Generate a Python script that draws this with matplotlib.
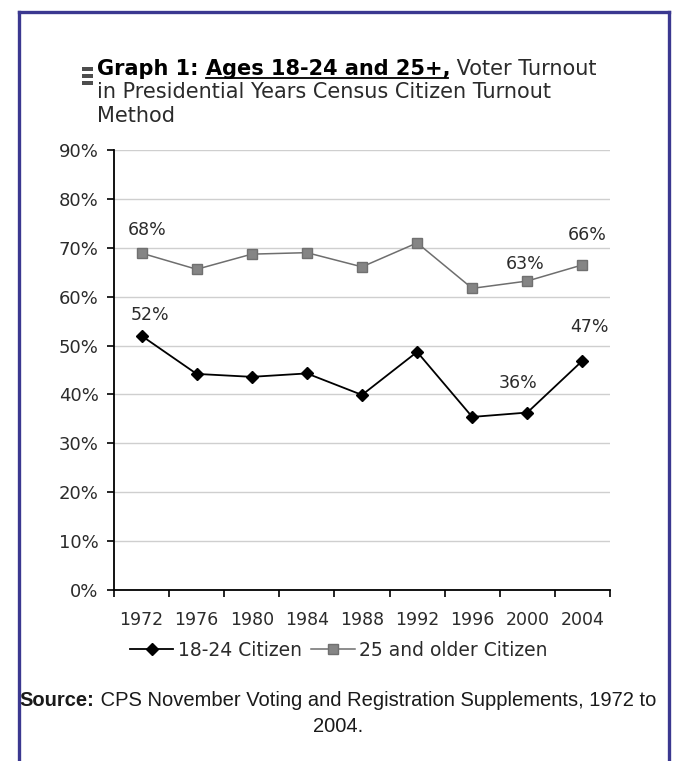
import matplotlib
import matplotlib.pyplot as plt
from matplotlib.lines import Line2D
from matplotlib.patches import Rectangle

matplotlib.use("Agg")

# --- Data ---
years = ["1972", "1976", "1980", "1984", "1988", "1992", "1996", "2000", "2004"]
young = [52.0, 44.2, 43.6, 44.3, 39.9, 48.7, 35.4, 36.3, 46.9]
older = [68.9, 65.6, 68.7, 69.0, 66.1, 71.0, 61.7, 63.2, 66.5]
y_ticks = [0, 10, 20, 30, 40, 50, 60, 70, 80, 90]

# labelled points: (index, text, dx px, dy px)
young_labels = [(0, "52%", 8, 21), (7, "36%", -9, 30), (8, "47%", 7, 34)]
older_labels = [(0, "68%", 6, 23), (7, "63%", -2, 17), (8, "66%", 5, 30)]

W, H = 677, 761
dpi = 100
fig = plt.figure(figsize=(W / dpi, H / dpi), dpi=dpi)
fig.patch.set_facecolor("white")


def fx(px):
    return px / W


def fy(py):
    return 1 - py / H


# frame (open at the bottom)
frame_color = "#3b3890"
fig.add_artist(Line2D([fx(19), fx(19)], [0, fy(12)], color=frame_color, lw=2.4))
fig.add_artist(Line2D([fx(19), fx(669)], [fy(12), fy(12)], color=frame_color, lw=2.4))
fig.add_artist(Line2D([fx(669), fx(669)], [0, fy(12)], color=frame_color, lw=2.4))

# --- Axes ---
ax = fig.add_axes([fx(114), fy(590), fx(610) - fx(114), fy(150) - fy(590)])
x = list(range(len(years)))
ax.set_xlim(-0.5, len(years) - 0.5)
ax.set_ylim(0, 90)

ax.plot(x, older, color="#6e6e6e", lw=1.1, marker="s", ms=6.5,
        mfc="#858585", mec="#707070", zorder=3, label="25 and older Citizen")
ax.plot(x, young, color="black", lw=1.3, marker="D", ms=6,
        mfc="black", mec="black", zorder=3, label="18-24 Citizen")

text_color = "#2b2b2b"
fs = 12.5
for i, txt, dx, dy in young_labels:
    ax.annotate(txt, (x[i], young[i]), xytext=(dx * 0.72, dy * 0.72),
                textcoords="offset points", ha="center", va="center",
                fontsize=fs, color=text_color)
for i, txt, dx, dy in older_labels:
    ax.annotate(txt, (x[i], older[i]), xytext=(dx * 0.72, dy * 0.72),
                textcoords="offset points", ha="center", va="center",
                fontsize=fs, color=text_color)

ax.set_yticks(y_ticks)
ax.set_yticklabels([f"{v}%" for v in y_ticks])
ax.set_xticks([i - 0.5 for i in range(len(years) + 1)])
ax.set_xticklabels([])
ax.set_xticks(x, minor=True)
ax.set_xticklabels(years, minor=True)
ax.tick_params(axis="x", which="major", length=5, width=1.2, direction="out")
ax.tick_params(axis="x", which="minor", length=0, pad=15, labelsize=fs, labelcolor=text_color)
ax.tick_params(axis="y", length=5, width=1.2, labelsize=13, labelcolor=text_color, pad=6)
ax.grid(axis="y", color="#cfcfcf", lw=1)
ax.set_axisbelow(True)
for s in ["top", "right"]:
    ax.spines[s].set_visible(False)
for s in ["left", "bottom"]:
    ax.spines[s].set_linewidth(1.3)

handles, labels = ax.get_legend_handles_labels()
fig.legend(handles[::-1], labels[::-1], loc="center", bbox_to_anchor=(fx(339), fy(650)),
           ncol=2, frameon=False, fontsize=13.5, handlelength=2.3, handletextpad=0.25,
           columnspacing=0.5, labelcolor=text_color)

# --- Title ---
renderer = fig.canvas.get_renderer()
tfs = 15


def put(xpx, ypx, s, **kw):
    t = fig.text(fx(xpx), fy(ypx), s, va="baseline", ha="left", **kw)
    bb = t.get_window_extent(renderer)
    return t, bb


_, bb = put(97, 75, "Graph 1: ", fontsize=tfs, weight="bold", color="black")
_, bb2 = put(bb.x1, 75, "Ages 18-24 and 25+,", fontsize=tfs, weight="bold", color="black")
fig.add_artist(Line2D([fx(bb2.x0), fx(bb2.x1 - 2)], [fy(78), fy(78)], color="black", lw=1.3))
put(bb2.x1, 75, " Voter Turnout", fontsize=tfs, color=text_color)
put(97, 98, "in Presidential Years Census Citizen Turnout", fontsize=tfs, color=text_color)
put(97, 122, "Method", fontsize=tfs, color=text_color)

# small list icon
for yy in [67, 74, 81]:
    fig.add_artist(Rectangle((fx(82), fy(yy + 4)), fx(11), 4 / H,
                             facecolor="#4d4d4d", lw=0))

# --- Source ---
sfs = 14.5
src_font = "Liberation Sans"
probe1 = fig.text(0, 0, "Source:", fontsize=sfs, weight="bold", family=src_font)
probe2 = fig.text(0, 0, " CPS November Voting and Registration Supplements, 1972 to",
                  fontsize=sfs, family=src_font)
w1 = probe1.get_window_extent(renderer).width
w2 = probe2.get_window_extent(renderer).width
probe1.remove()
probe2.remove()
x0 = 338 - (w1 + w2) / 2
put(x0, 706, "Source:", fontsize=sfs, weight="bold", family=src_font, color="#1a1a1a")
put(x0 + w1, 706, " CPS November Voting and Registration Supplements, 1972 to",
    fontsize=sfs, family=src_font, color="#1a1a1a")
fig.text(fx(338), fy(732), "2004.", fontsize=sfs, family=src_font, color="#1a1a1a",
         ha="center", va="baseline")

fig.savefig("out.png", dpi=dpi)
plt.close()
